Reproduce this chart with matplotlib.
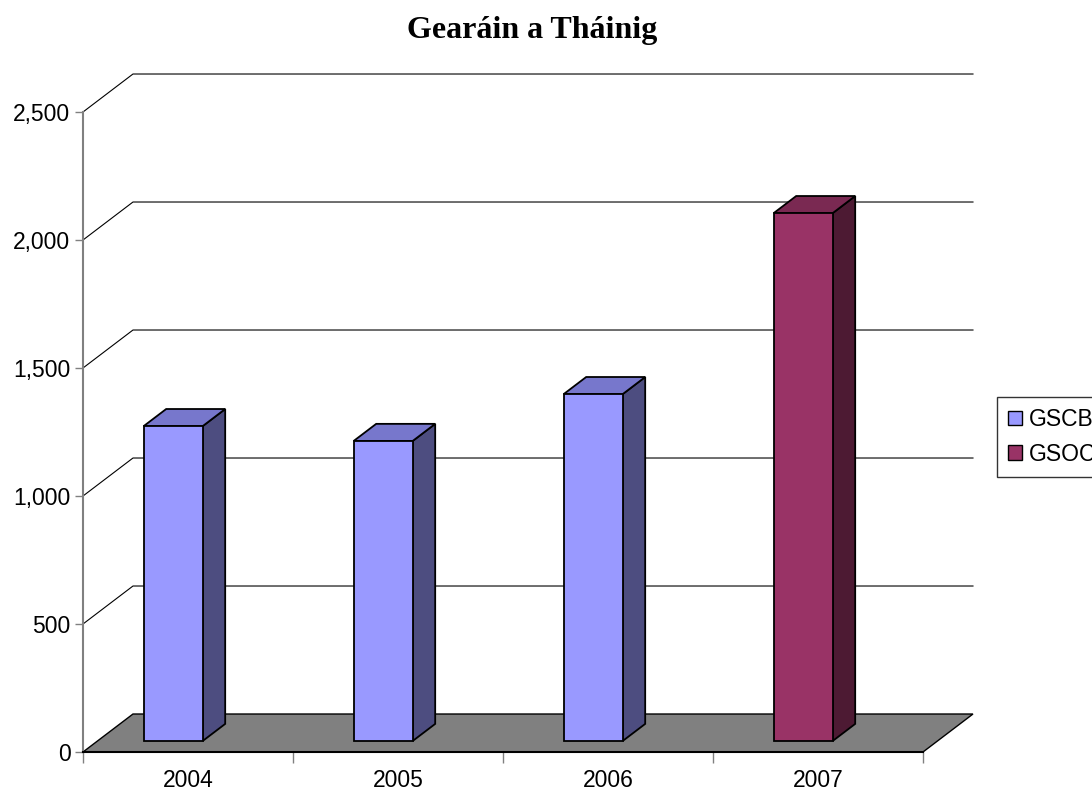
import matplotlib.pyplot as plt
from matplotlib.patches import Polygon, Patch

# data
years = ['2004', '2005', '2006', '2007']
gscb = [1230, 1172, 1355, 0]
gsoc = [0, 0, 0, 2062]
y_ticks = [0, 500, 1000, 1500, 2000, 2500]

# face colours: front, top, side
col_gscb = ('#9999FF', '#7777CC', '#4D4D80')
col_gsoc = ('#993366', '#7A2952', '#4D1A33')

# fake 3d geometry (data units)
dx = 0.238      # depth shift in category units
dy = 148.4      # depth shift in value units
bar_x0 = 0.22
bar_w = 0.281
d0, d1 = 0.29, 0.74

plt.rcParams['font.family'] = ['Liberation Sans', 'DejaVu Sans']

fig = plt.figure(figsize=(10.92, 7.9), dpi=100)
ax = fig.add_axes([83 / 1092, 38 / 790, 840 / 1092, 640 / 790])
ax.set_xlim(0, len(years))
ax.set_ylim(0, 2500)


def proj(x, y, d):
    return (x + d * dx, y + d * dy)


# back wall + left wall gridlines
for v in y_ticks[1:]:
    ax.plot([0, dx, len(years) + dx], [v, v + dy, v + dy], color='black',
            lw=0.8, clip_on=False, zorder=1)

# floor
floor = [proj(0, 0, 0), proj(len(years), 0, 0), proj(len(years), 0, 1), proj(0, 0, 1)]
ax.add_patch(Polygon(floor, closed=True, facecolor='#808080', edgecolor='black',
                     lw=1, clip_on=False, zorder=2))


def bar3d(i, v, cols):
    x0 = i + bar_x0
    x1 = x0 + bar_w
    front = [proj(x0, 0, d0), proj(x1, 0, d0), proj(x1, v, d0), proj(x0, v, d0)]
    side = [proj(x1, 0, d0), proj(x1, 0, d1), proj(x1, v, d1), proj(x1, v, d0)]
    top = [proj(x0, v, d0), proj(x1, v, d0), proj(x1, v, d1), proj(x0, v, d1)]
    for pts, c in [(side, cols[2]), (top, cols[1]), (front, cols[0])]:
        ax.add_patch(Polygon(pts, closed=True, facecolor=c, edgecolor='black',
                             lw=1.3, joinstyle='miter', clip_on=False, zorder=3))


for i in range(len(years)):
    if gscb[i] > 0:
        bar3d(i, gscb[i], col_gscb)
    if gsoc[i] > 0:
        bar3d(i, gsoc[i], col_gsoc)

# axes look
for s in ['top', 'right']:
    ax.spines[s].set_visible(False)
ax.spines['left'].set_color('#808080')
ax.spines['left'].set_linewidth(1.5)
ax.spines['bottom'].set_color('black')
ax.spines['bottom'].set_linewidth(1.5)
ax.spines['bottom'].set_zorder(4)

ax.set_yticks(y_ticks)
ax.set_yticklabels(['{:,}'.format(v) for v in y_ticks], fontsize=16.5)
ax.tick_params(axis='y', length=6, width=1, color='#808080', pad=3)

ax.set_xticks(range(len(years) + 1))
ax.set_xticklabels([''] * (len(years) + 1))
ax.tick_params(axis='x', which='major', length=8, width=1, color='#808080')
ax.set_xticks([i + 0.5 for i in range(len(years))], minor=True)
ax.set_xticklabels(years, minor=True, fontsize=16.5)
ax.tick_params(axis='x', which='minor', length=0, pad=12)

fig.text(532 / 1092, 1 - 38 / 790, 'Gearáin a Tháinig', ha='center', va='baseline',
         fontsize=23, fontweight='bold', family=['Liberation Serif', 'DejaVu Serif'])

handles = [Patch(facecolor=col_gscb[0], edgecolor='black', label='GSCB'),
           Patch(facecolor=col_gsoc[0], edgecolor='black', label='GSOC')]
leg = fig.legend(handles=handles, loc='lower left',
                 bbox_to_anchor=(997 / 1092, 1 - 477 / 790),
                 bbox_transform=fig.transFigure, borderaxespad=0,
                 fontsize=16.5, fancybox=False, edgecolor='black',
                 handlelength=0.6, handleheight=0.6, handletextpad=0.3,
                 labelspacing=0.5, borderpad=0.5)
leg.get_frame().set_linewidth(1)

fig.savefig('out.png', dpi=100)
